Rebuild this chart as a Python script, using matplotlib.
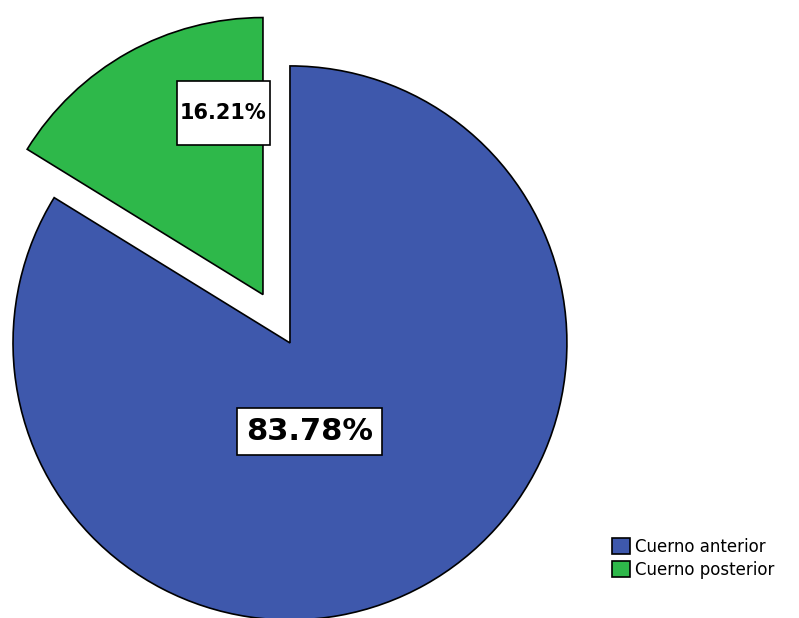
import matplotlib.pyplot as plt
import numpy as np

labels = ["Cuerno anterior", "Cuerno posterior"]
values = [83.78, 16.21]
colors = ["#3E58AC", "#2EB84A"]
explode = [0, 0.2]

fig = plt.figure(figsize=(7.99, 6.18), dpi=100)
ax = fig.add_axes([0, 0, 1, 1])

wedges, _ = ax.pie(values, colors=colors, explode=explode, startangle=90,
                   counterclock=False, radius=1,
                   wedgeprops=dict(edgecolor="black", linewidth=1.2))

ax.set_xlim(-1.047, 1.838)
ax.set_ylim(-0.993, 1.238)
ax.set_aspect("auto")
ax.axis("off")

# percentage labels in white boxes (the small one gets a taller box)
ax.text(0.07, -0.32, f"{values[0]:.2f}%", ha="center", va="center",
        fontsize=22, fontweight="bold", color="black",
        bbox=dict(boxstyle="square,pad=0.3", facecolor="white",
                  edgecolor="black", linewidth=1.2))
ax.text(-0.24, 0.83, f" \n{values[1]:.2f}%\n ", ha="center", va="center",
        fontsize=15, fontweight="bold", color="black", linespacing=0.95,
        bbox=dict(boxstyle="square,pad=0.15", facecolor="white",
                  edgecolor="black", linewidth=1.2))

fig.legend(wedges, labels, loc="upper left", bbox_to_anchor=(0.757, 0.14),
           frameon=False, fontsize=12, handlelength=1.1, handleheight=1.1,
           handletextpad=0.3, labelspacing=0.3, borderaxespad=0)

fig.savefig("out.png", dpi=100)
